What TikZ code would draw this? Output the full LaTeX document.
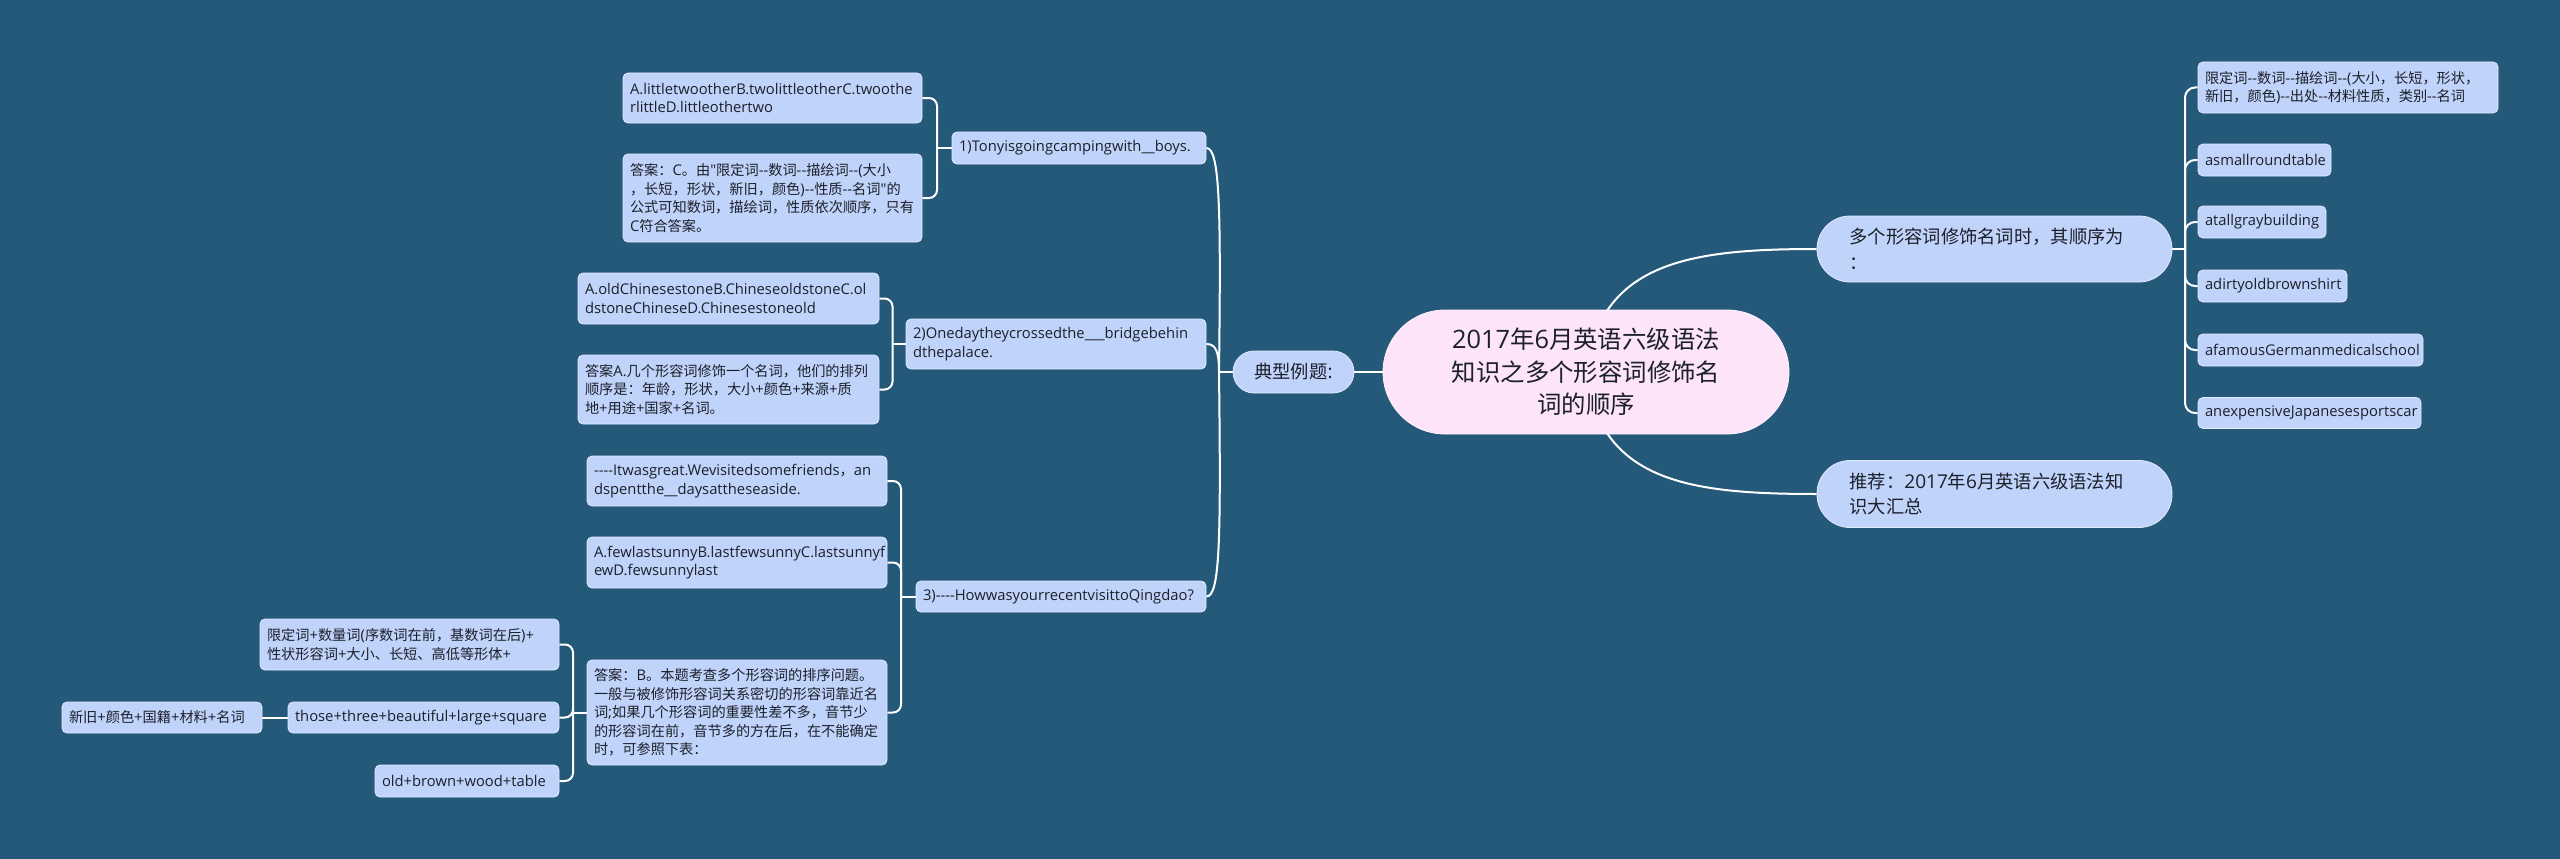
\documentclass[tikz,border=0pt]{standalone}
\usepackage{fontspec}
\setmainfont{Open Sans}[Ligatures=TeXOff,Scale=1.04]
\newfontfamily\cjkfont{Noto Sans CJK SC}[Ligatures=TeXOff]
\usetikzlibrary{calc}
\XeTeXinterchartokenstate=1
\newXeTeXintercharclass\mycjk
\makeatletter
\def\setcjkrange#1#2{\count@=#1\relax
  \loop\XeTeXcharclass\count@=\mycjk\relax\ifnum\count@<#2\advance\count@ 1\repeat}
\makeatother
\setcjkrange{"3000}{"303F}
\setcjkrange{"4E00}{"9FFF}
\setcjkrange{"FF00}{"FFEF}
\XeTeXinterchartoks 0 \mycjk = {\begingroup\cjkfont}
\XeTeXinterchartoks 4095 \mycjk = {\begingroup\cjkfont}
\XeTeXinterchartoks \mycjk 0 = {\endgroup}
\XeTeXinterchartoks \mycjk 4095 = {\endgroup}
\definecolor{bg}{RGB}{36,89,122}
\definecolor{nodefill}{RGB}{192,211,250}
\definecolor{rootfill}{RGB}{253,228,248}
\definecolor{txt}{RGB}{28,32,42}
\exhyphenpenalty=10000
\hyphenpenalty=10000
\pgfdeclarelayer{bgfill}
\pgfdeclarelayer{edges}
\pgfsetlayers{bgfill,edges,main}
\tikzset{
  box/.style={fill=nodefill, draw=white!55!nodefill, line width=0.8, rounded corners=5,
    inner xsep=7, inner ysep=0, text=txt, align=left,
    font=\fontsize{14.2}{18.4}\selectfont},
  pill/.style={fill=nodefill, draw=white!55!nodefill, line width=0.8,
    inner xsep=0, inner ysep=0, text=txt,
    font=\fontsize{18.3}{25.6}\selectfont},
  rootnode/.style={fill=rootfill, draw=white!60!rootfill, line width=0.8,
    inner sep=0, text=txt, align=center,
    font=\fontsize{24.4}{32.5}\selectfont},
  conn/.style={draw=white, line width=2}
}
\begin{document}
\begin{tikzpicture}[x=1pt,y=-1pt]
\begin{pgfonlayer}{bgfill}
\fill[bg] (0,0) rectangle (2560,859);
\end{pgfonlayer}
\useasboundingbox (0,0) rectangle (2560,859);

% root and first level
\node[rootnode, minimum width=406, minimum height=124, rounded corners=62, text width=330] (root) at (1586,372)
  {2017年6月英语六级语法\\知识之多个形容词修饰名\\词的顺序};
\node[pill, minimum width=121, minimum height=42, rounded corners=21, align=center] (typ) at (1293.5,372) {典型例题:};
\node[pill, minimum width=355, minimum height=66, rounded corners=33, text width=290, align=left] (multi) at (1994.5,249)
  {多个形容词修饰名词时，其顺序为\\：};
\node[pill, minimum width=355, minimum height=67, rounded corners=33, text width=290, align=left] (rec) at (1994.5,494)
  {推荐：2017年6月英语六级语法知\\识大汇总};

% right leaves
\node[box, minimum width=300, text width=286, minimum height=51] (r1) at (2348,87.5)
  {限定词--数词--描绘词--(大小，长短，形状，\\新旧，颜色)--出处--材料性质，类别--名词};
\node[box, minimum width=133, text width=119, minimum height=32] (r2) at (2264.5,160) {asmallroundtable};
\node[box, minimum width=128, text width=114, minimum height=32] (r3) at (2262,222) {atallgraybuilding};
\node[box, minimum width=149, text width=135, minimum height=32] (r4) at (2272.5,286) {adirtyoldbrownshirt};
\node[box, minimum width=225, text width=211, minimum height=32] (r5) at (2310.5,350) {afamousGermanmedicalschool};
\node[box, minimum width=223, text width=209, minimum height=31] (r6) at (2309.5,413) {anexpensiveJapanesesportscar};

% questions
\node[box, minimum width=254, text width=240, minimum height=32] (q1) at (1079,148) {1)Tonyisgoingcampingwith\_\_boys.};
\node[box, minimum width=300, text width=286, minimum height=50] (q2) at (1056,344)
  {2)Onedaytheycrossedthe\_\_\_bridgebehin\\dthepalace.};
\node[box, minimum width=290, text width=276, minimum height=31] (q3) at (1061,596.5) {3)----HowwasyourrecentvisittoQingdao?};

% Q1 children
\node[box, minimum width=299, text width=285, minimum height=50] (a1a) at (772.5,98)
  {A.littletwootherB.twolittleotherC.twoothe\\rlittleD.littleothertwo};
\node[box, minimum width=299, text width=285, minimum height=88] (a1b) at (772.5,198)
  {答案：C。由"限定词--数词--描绘词--(大小\\，长短，形状，新旧，颜色)--性质--名词"的\\公式可知数词，描绘词，性质依次顺序，只有\\C符合答案。};

% Q2 children
\node[box, minimum width=301, text width=287, minimum height=51] (a2a) at (728.5,298.5)
  {A.oldChinesestoneB.ChineseoldstoneC.ol\\dstoneChineseD.Chinesestoneold};
\node[box, minimum width=301, text width=287, minimum height=69] (a2b) at (728.5,389.5)
  {答案A.几个形容词修饰一个名词，他们的排列\\顺序是：年龄，形状，大小+颜色+来源+质\\地+用途+国家+名词。};

% Q3 children
\node[box, minimum width=300, text width=286, minimum height=50] (a3a) at (737,481)
  {----Itwasgreat.Wevisitedsomefriends，an\\dspentthe\_\_daysattheseaside.};
\node[box, minimum width=300, text width=286, minimum height=51] (a3b) at (737,562.5)
  {A.fewlastsunnyB.lastfewsunnyC.lastsunnyf\\ewD.fewsunnylast};
\node[box, minimum width=300, text width=286, minimum height=105] (a3c) at (737,712.5)
  {答案：B。本题考查多个形容词的排序问题。\\一般与被修饰形容词关系密切的形容词靠近名\\词;如果几个形容词的重要性差不多，音节少\\的形容词在前，音节多的方在后，在不能确定\\时，可参照下表：};

% answer B children
\node[box, minimum width=299, text width=285, minimum height=51] (b1) at (409.5,644.5)
  {限定词+数量词(序数词在前，基数词在后)+\\性状形容词+大小、长短、高低等形体+};
\node[box, minimum width=271, text width=257, minimum height=31] (b2) at (423.5,717.5) {those+three+beautiful+large+square};
\node[box, minimum width=184, text width=170, minimum height=32] (b3) at (467,781) {old+brown+wood+table};
\node[box, minimum width=200, text width=186, minimum height=31] (b4) at (162,717.5) {新旧+颜色+国籍+材料+名词};

% junctions
\coordinate (jT) at (1219,372);
\coordinate (jR) at (2185,249);
\coordinate (jq1) at (937,148);
\coordinate (jq2) at (892.5,344);
\coordinate (jq3) at (901,596.5);
\coordinate (jb) at (573,712.5);

\begin{pgfonlayer}{edges}
\draw[conn] (root.center) .. controls (1600,262) and (1690,249) .. (multi.west);
\draw[conn] (root.center) .. controls (1600,482) and (1690,494) .. (rec.west);
\draw[conn] (root.west) -- (typ.east);
\draw[conn] (typ.west) -- (jT);
\draw[conn] (jT) .. controls (1221,210) and (1220,148) .. (q1.east);
\draw[conn] (jT) .. controls (1219,352) and (1216,344) .. (q2.east);
\draw[conn] (jT) .. controls (1221,540) and (1220,596.5) .. (q3.east);

\draw[conn] (multi.east) -- (jR);
\foreach \n in {r1,r2,r3,r4,r5,r6}
  \draw[conn, rounded corners=10] (jR) |- (\n.west);

\draw[conn] (q1.west) -- (jq1);
\draw[conn, rounded corners=8] (jq1) |- (a1a.east);
\draw[conn, rounded corners=8] (jq1) |- (a1b.east);

\draw[conn] (q2.west) -- (jq2);
\draw[conn, rounded corners=8] (jq2) |- (a2a.east);
\draw[conn, rounded corners=8] (jq2) |- (a2b.east);

\draw[conn] (q3.west) -- (jq3);
\draw[conn, rounded corners=8] (jq3) |- (a3a.east);
\draw[conn, rounded corners=8] (jq3) |- (a3b.east);
\draw[conn, rounded corners=8] (jq3) |- (a3c.east);

\draw[conn] (a3c.west) -- (jb);
\draw[conn, rounded corners=8] (jb) |- (b1.east);
\draw[conn, rounded corners=8] (jb) |- (b2.east);
\draw[conn, rounded corners=8] (jb) |- (b3.east);

\draw[conn] (b2.west) -- (b4.east);
\end{pgfonlayer}
\end{tikzpicture}
\end{document}
